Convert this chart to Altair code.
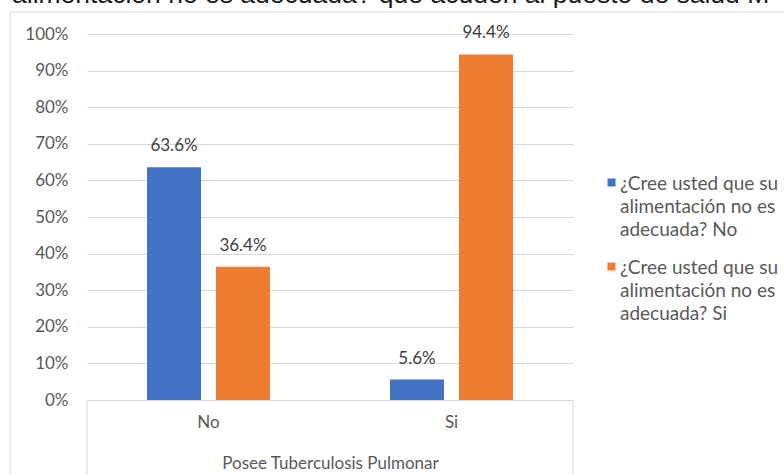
import altair as alt
import pandas as pd

# Categories on the x axis and the two answer series
categorias = ["No", "Si"]
series = [
    "¿Cree usted que su alimentación no es adecuada? No",
    "¿Cree usted que su alimentación no es adecuada? Si",
]
leyenda = [
    "¿Cree usted que su\nalimentación no es\nadecuada? No",
    "¿Cree usted que su\nalimentación no es\nadecuada? Si",
]
# Percentages per category for each series
pct_serie_no = [63.6, 5.6]
pct_serie_si = [36.4, 94.4]
colores = ["#4472C4", "#ED7D31"]
ticks_y = [0, 0.1, 0.2, 0.3, 0.4, 0.5, 0.6, 0.7, 0.8, 0.9, 1.0]
titulo_x = "Posee Tuberculosis Pulmonar"
texto_superior = "alimentación no es adecuada? que acuden al puesto de salud M"

filas = []
for i, cat in enumerate(categorias):
    filas.append({"categoria": cat, "serie": series[0], "valor": pct_serie_no[i] / 100})
    filas.append({"categoria": cat, "serie": series[1], "valor": pct_serie_si[i] / 100})
df = pd.DataFrame(filas)

FUENTE = "Lato"
GRIS = "#595959"
LINEA = "#d9d9d9"

x_enc = alt.X(
    "categoria:N",
    sort=categorias,
    scale=alt.Scale(domain=categorias, paddingInner=0, paddingOuter=0),
    title=titulo_x,
    axis=alt.Axis(
        labelAngle=0, ticks=False, domain=True, domainColor=LINEA, domainWidth=1,
        labelFont=FUENTE, labelFontSize=17, labelColor=GRIS, labelPadding=14,
        titleFont=FUENTE, titleFontSize=17, titleColor=GRIS, titleFontWeight="normal",
        titlePadding=25,
    ),
)
xoff_enc = alt.XOffset(
    "serie:N", sort=series,
    scale=alt.Scale(domain=series, paddingInner=0.217, paddingOuter=0.87),
)
y_enc = alt.Y(
    "valor:Q",
    scale=alt.Scale(domain=[0, 1]),
    axis=alt.Axis(
        values=ticks_y, format=".0%", title=None, ticks=False, domain=False,
        grid=True, gridColor=LINEA, gridWidth=1,
        labelFont=FUENTE, labelFontSize=17, labelColor=GRIS, labelPadding=19,
    ),
)
color_enc = alt.Color("serie:N", scale=alt.Scale(domain=series, range=colores), legend=None)

base = alt.Chart(df)
barras = base.mark_bar().encode(x=x_enc, xOffset=xoff_enc, y=y_enc, color=color_enc)
etiquetas = base.mark_text(
    dy=-21, baseline="middle", font=FUENTE, fontSize=17, color="#404040"
).encode(x=x_enc, xOffset=xoff_enc, y=y_enc, text=alt.Text("valor:Q", format=".1%"))

uno = pd.DataFrame({"k": [0]})
# Frame around the category axis and the outer chart border
marco = [
    alt.Chart(uno).mark_rule(color=LINEA).encode(x=alt.value(0), y=alt.value(366), y2=alt.value(460)),
    alt.Chart(uno).mark_rule(color=LINEA).encode(x=alt.value(486), y=alt.value(366), y2=alt.value(460)),
    alt.Chart(uno).mark_rule(color=LINEA).encode(x=alt.value(-77), y=alt.value(-22), y2=alt.value(460)),
    alt.Chart(uno).mark_rule(color=LINEA).encode(x=alt.value(-77), x2=alt.value(700), y=alt.value(-22)),
]

# Legend drawn beside the plot, colored through the same scale
leg_df = pd.DataFrame({"serie": series, "texto": leyenda})
capas_leyenda = []
for i, s in enumerate(series):
    d = leg_df[leg_df["serie"] == s]
    capas_leyenda.append(
        alt.Chart(d).mark_square(size=64, opacity=1).encode(
            x=alt.value(524.5), y=alt.value(148.5 + 84 * i), color=color_enc
        )
    )
    capas_leyenda.append(
        alt.Chart(d).mark_text(
            align="left", baseline="top", lineBreak="\n", lineHeight=23,
            font=FUENTE, fontSize=19, color=GRIS,
        ).encode(x=alt.value(533), y=alt.value(141 + 84 * i), text="texto:N")
    )

superior = alt.Chart(pd.DataFrame({"t": [texto_superior]})).mark_text(
    align="left", baseline="alphabetic", font="Liberation Sans", fontSize=26.5, color="#1a1a1a"
).encode(x=alt.value(-75), y=alt.value(-31), text="t:N")

chart = alt.layer(barras, etiquetas, *marco, *capas_leyenda, superior).properties(
    width=486,
    height=366,
    padding={"left": 87, "top": 34, "right": 211, "bottom": 75},
    autosize=alt.AutoSizeParams(type="none"),
    background="white",
).configure_view(stroke=None)

chart.save("out.html", embed_options={"renderer": "svg", "actions": False})
